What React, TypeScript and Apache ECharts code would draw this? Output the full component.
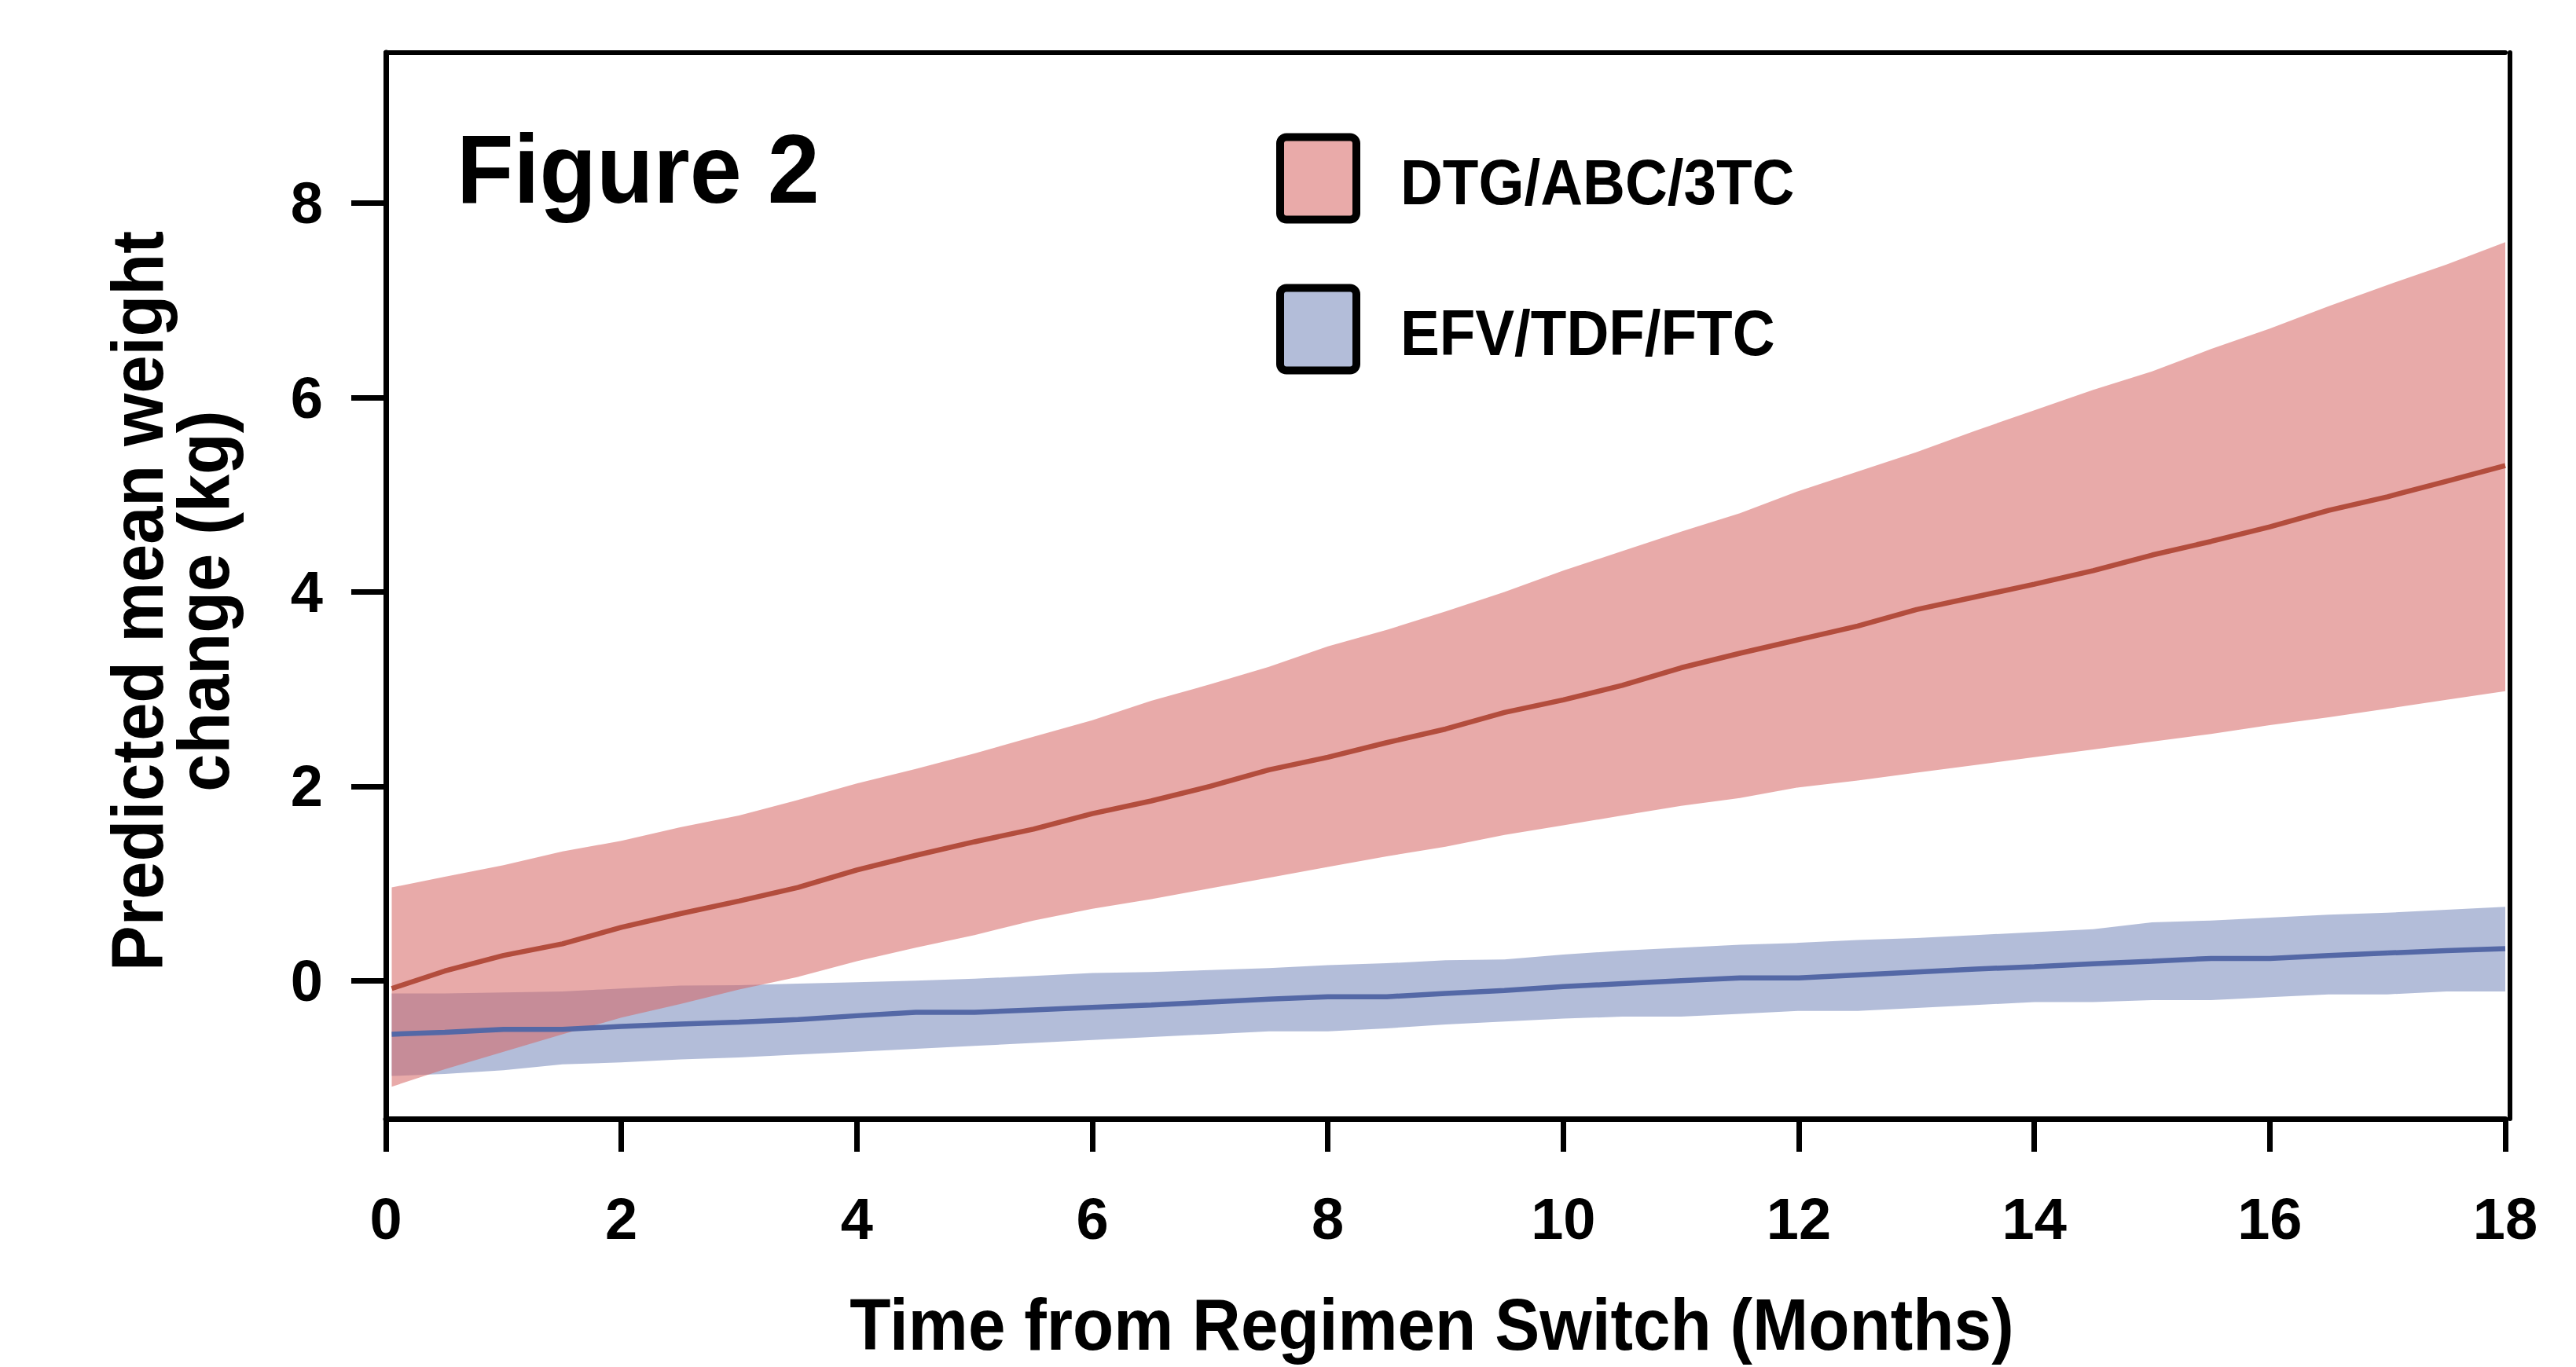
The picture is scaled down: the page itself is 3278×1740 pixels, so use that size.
import React, { useEffect, useRef } from 'react';
import * as echarts from 'echarts';

// ---- data ----
const months = [0.05, 0.5, 1, 1.5, 2, 2.5, 3, 3.5, 4, 4.5, 5, 5.5, 6, 6.5, 7, 7.5, 8, 8.5, 9, 9.5, 10, 10.5, 11, 11.5, 12, 12.5, 13, 13.5, 14, 14.5, 15, 15.5, 16, 16.5, 17, 17.5, 18];

const dtgUpper = [0.96, 1.07, 1.19, 1.33, 1.44, 1.58, 1.70, 1.86, 2.03, 2.18, 2.34, 2.51, 2.68, 2.88, 3.05, 3.23, 3.44, 3.61, 3.80, 4.00, 4.22, 4.42, 4.62, 4.81, 5.04, 5.24, 5.44, 5.66, 5.87, 6.08, 6.27, 6.50, 6.71, 6.94, 7.16, 7.37, 7.60];
const dtgMean = [-0.08, 0.10, 0.26, 0.38, 0.55, 0.69, 0.82, 0.96, 1.14, 1.29, 1.43, 1.56, 1.72, 1.85, 2.00, 2.17, 2.30, 2.45, 2.59, 2.76, 2.89, 3.04, 3.22, 3.37, 3.51, 3.65, 3.82, 3.95, 4.08, 4.22, 4.38, 4.52, 4.67, 4.84, 4.98, 5.14, 5.30];
const dtgLower = [-1.09, -0.91, -0.73, -0.55, -0.38, -0.24, -0.09, 0.04, 0.20, 0.34, 0.47, 0.62, 0.74, 0.84, 0.95, 1.06, 1.17, 1.28, 1.38, 1.50, 1.60, 1.70, 1.80, 1.88, 1.99, 2.06, 2.14, 2.22, 2.30, 2.38, 2.46, 2.54, 2.63, 2.71, 2.80, 2.89, 2.98];

const efvUpper = [-0.13, -0.13, -0.12, -0.11, -0.08, -0.05, -0.045, -0.03, -0.015, 0.0, 0.02, 0.05, 0.08, 0.09, 0.11, 0.13, 0.16, 0.18, 0.21, 0.22, 0.27, 0.31, 0.34, 0.37, 0.39, 0.42, 0.44, 0.47, 0.50, 0.53, 0.60, 0.62, 0.65, 0.68, 0.70, 0.73, 0.76];
const efvMean = [-0.55, -0.53, -0.50, -0.50, -0.47, -0.445, -0.425, -0.40, -0.36, -0.325, -0.325, -0.30, -0.275, -0.25, -0.22, -0.19, -0.165, -0.165, -0.13, -0.10, -0.06, -0.03, 0.00, 0.03, 0.03, 0.06, 0.09, 0.12, 0.145, 0.175, 0.20, 0.23, 0.23, 0.26, 0.285, 0.31, 0.33];
const efvLower = [-0.98, -0.96, -0.92, -0.86, -0.84, -0.81, -0.79, -0.76, -0.73, -0.70, -0.67, -0.64, -0.61, -0.58, -0.55, -0.52, -0.52, -0.49, -0.45, -0.42, -0.39, -0.37, -0.37, -0.34, -0.31, -0.31, -0.28, -0.25, -0.22, -0.22, -0.20, -0.20, -0.17, -0.14, -0.14, -0.11, -0.11];

const xTicks = [0, 2, 4, 6, 8, 10, 12, 14, 16, 18];
const yTicks = [0, 2, 4, 6, 8];
const seriesNames = ['DTG/ABC/3TC', 'EFV/TDF/FTC'];
const figureTitle = 'Figure 2';
const xTitle = 'Time from Regimen Switch (Months)';
const yTitleLines = ['Predicted mean weight', 'change (kg)'];

// ---- styles ----
const FONT = '"Liberation Sans", Arial, Helvetica, sans-serif';
const W = 3278;
const H = 1740;
const RED_LINE = '#B34D3D';
const BLUE_LINE = '#5468A6';
const RED_BAND = 'rgba(213,100,99,0.55)';
const BLUE_BAND = 'rgba(117,135,186,0.55)';
const RED_KEY = '#E9AAA9';
const BLUE_KEY = '#B3BDD9';
const Y_MIN = -1.42;
const Y_MAX = 9.55;

function bandRenderer(lower: number[], upper: number[], fill: string) {
  return (params: any, api: any) => {
    if (params.dataIndex !== 0) return null;
    const top = months.map((t, i) => api.coord([t, upper[i]]));
    const bottom = months.map((t, i) => api.coord([t, lower[i]])).reverse();
    return {
      type: 'polygon',
      shape: { points: top.concat(bottom) },
      style: { fill },
      silent: true,
    };
  };
}

export default function App() {
  const ref = useRef<HTMLDivElement>(null);

  useEffect(() => {
    if (!ref.current) return;
    const chart = echarts.init(ref.current, undefined, { renderer: 'svg', width: W, height: H });

    const textStyleBase = { fontFamily: FONT, fontWeight: 'bold', fill: '#000' };

    const option: any = {
      animation: false,
      backgroundColor: '#ffffff',
      grid: {
        left: 491,
        top: 67,
        width: 2697,
        height: 1357,
        containLabel: false,
        outerBoundsMode: 'none',
      },
      xAxis: [
        {
          type: 'value',
          min: 0,
          max: 18,
          interval: 2,
          position: 'bottom',
          axisLine: { show: true, onZero: false, lineStyle: { color: '#000', width: 7 } },
          axisTick: { show: true, length: 42, lineStyle: { color: '#000', width: 7 } },
          axisLabel: {
            show: true,
            margin: 127,
            verticalAlign: 'middle',
            color: '#000',
            fontSize: 74,
            fontWeight: 'bold',
            fontFamily: FONT,
            formatter: (v: number) => (xTicks.indexOf(v) >= 0 ? String(v) : ''),
          },
          splitLine: { show: false },
        },
        {
          type: 'value',
          min: 0,
          max: 18,
          position: 'top',
          axisLine: { show: true, onZero: false, lineStyle: { color: '#000', width: 6 } },
          axisTick: { show: false },
          axisLabel: { show: false },
          splitLine: { show: false },
        },
      ],
      yAxis: [
        {
          type: 'value',
          min: Y_MIN,
          max: Y_MAX,
          position: 'left',
          axisLine: { show: true, onZero: false, lineStyle: { color: '#000', width: 7 } },
          axisTick: { show: true, length: 44, customValues: yTicks, lineStyle: { color: '#000', width: 7 } },
          axisLabel: {
            show: true,
            customValues: yTicks,
            margin: 80,
            color: '#000',
            fontSize: 74,
            fontWeight: 'bold',
            fontFamily: FONT,
          },
          splitLine: { show: false },
        },
        {
          type: 'value',
          min: Y_MIN,
          max: Y_MAX,
          position: 'right',
          offset: 6,
          axisLine: { show: true, onZero: false, lineStyle: { color: '#000', width: 6 } },
          axisTick: { show: false },
          axisLabel: { show: false },
          splitLine: { show: false },
        },
      ],
      series: [
        {
          name: seriesNames[1] + ' band',
          type: 'custom',
          coordinateSystem: 'cartesian2d',
          xAxisIndex: 0,
          yAxisIndex: 0,
          z: 1,
          silent: true,
          renderItem: bandRenderer(efvLower, efvUpper, BLUE_BAND),
          encode: { x: 0, y: [1, 2] },
          data: months.map((t, i) => [t, efvLower[i], efvUpper[i]]),
        },
        {
          name: seriesNames[0] + ' band',
          type: 'custom',
          coordinateSystem: 'cartesian2d',
          xAxisIndex: 0,
          yAxisIndex: 0,
          z: 1,
          silent: true,
          renderItem: bandRenderer(dtgLower, dtgUpper, RED_BAND),
          encode: { x: 0, y: [1, 2] },
          data: months.map((t, i) => [t, dtgLower[i], dtgUpper[i]]),
        },
        {
          name: seriesNames[0],
          type: 'line',
          xAxisIndex: 0,
          yAxisIndex: 0,
          z: 3,
          showSymbol: false,
          symbol: 'none',
          silent: true,
          lineStyle: { color: RED_LINE, width: 6.5 },
          data: months.map((t, i) => [t, dtgMean[i]]),
        },
        {
          name: seriesNames[1],
          type: 'line',
          xAxisIndex: 0,
          yAxisIndex: 0,
          z: 3,
          showSymbol: false,
          symbol: 'none',
          silent: true,
          lineStyle: { color: BLUE_LINE, width: 6.5 },
          data: months.map((t, i) => [t, efvMean[i]]),
        },
      ],
      graphic: [
        {
          type: 'text',
          x: 581,
          y: 215,
          scaleX: 0.95,
          style: { ...textStyleBase, text: figureTitle, fontSize: 125, textAlign: 'left', verticalAlign: 'middle' },
        },
        {
          type: 'rect',
          shape: { x: 1629, y: 174.5, width: 97, height: 105, r: 8 },
          style: { fill: RED_KEY, stroke: '#000', lineWidth: 10 },
        },
        {
          type: 'rect',
          shape: { x: 1629, y: 366.5, width: 97, height: 105, r: 8 },
          style: { fill: BLUE_KEY, stroke: '#000', lineWidth: 10 },
        },
        {
          type: 'text',
          x: 1782,
          y: 232,
          scaleX: 0.91,
          style: { ...textStyleBase, text: seriesNames[0], fontSize: 82, textAlign: 'left', verticalAlign: 'middle' },
        },
        {
          type: 'text',
          x: 1782,
          y: 424,
          scaleX: 0.91,
          style: { ...textStyleBase, text: seriesNames[1], fontSize: 82, textAlign: 'left', verticalAlign: 'middle' },
        },
        {
          type: 'text',
          x: 175,
          y: 765,
          rotation: Math.PI / 2,
          scaleX: 0.93,
          style: { ...textStyleBase, text: yTitleLines[0], fontSize: 93, textAlign: 'center', verticalAlign: 'middle' },
        },
        {
          type: 'text',
          x: 259,
          y: 765,
          rotation: Math.PI / 2,
          scaleX: 0.93,
          style: { ...textStyleBase, text: yTitleLines[1], fontSize: 93, textAlign: 'center', verticalAlign: 'middle' },
        },
        {
          type: 'text',
          x: 1822,
          y: 1686,
          scaleX: 0.92,
          style: { ...textStyleBase, text: xTitle, fontSize: 93, textAlign: 'center', verticalAlign: 'middle' },
        },
      ],
    };

    chart.setOption(option);
    return () => {
      chart.dispose();
    };
  }, []);

  return (
    <div
      ref={ref}
      style={{ position: 'fixed', left: 0, top: 0, width: W, height: H, background: '#fff' }}
    />
  );
}
